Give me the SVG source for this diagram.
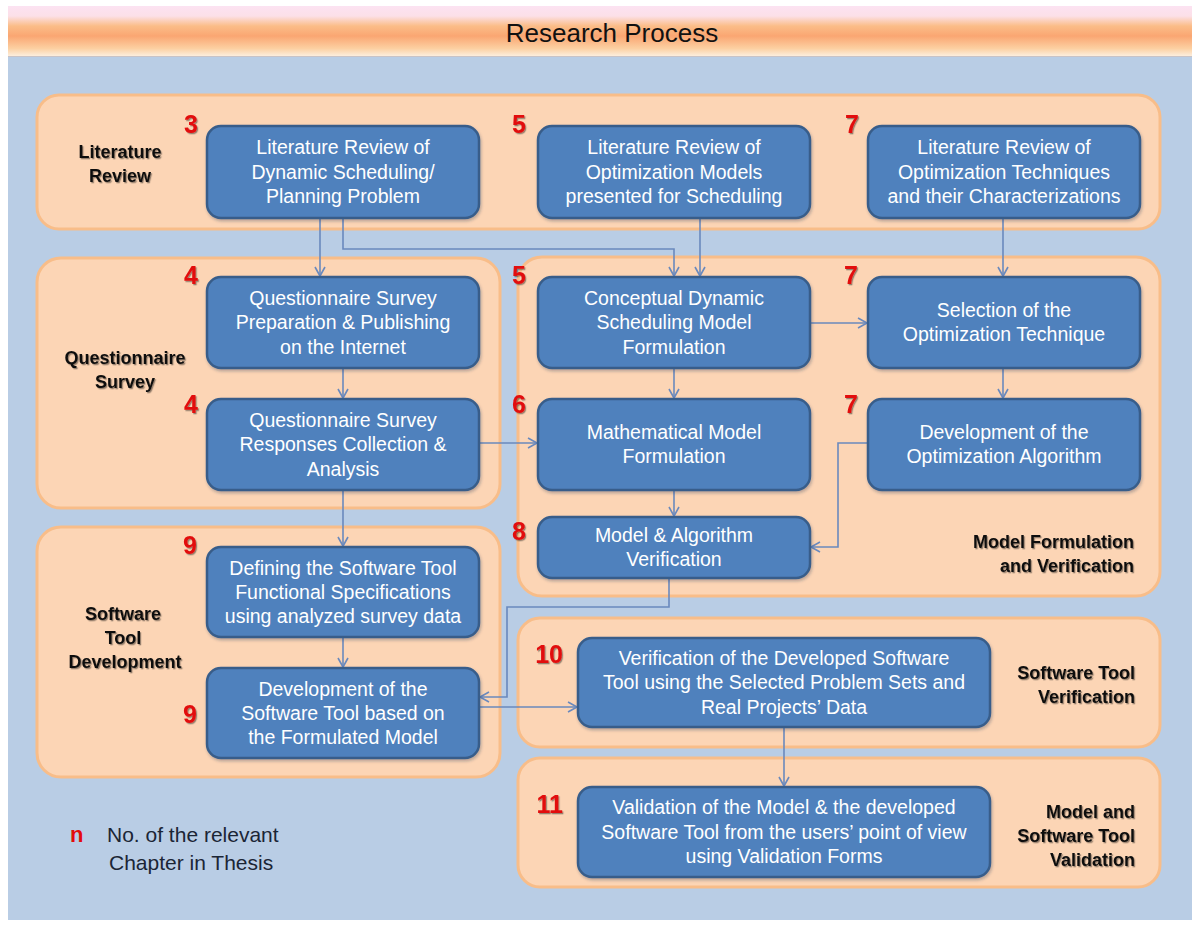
<svg xmlns="http://www.w3.org/2000/svg" width="1192" height="926" viewBox="0 0 1192 926">
  <defs>
    <linearGradient id="titleGrad" x1="0" y1="0" x2="0" y2="1">
      <stop offset="0" stop-color="#fce2f2"/>
      <stop offset="0.2" stop-color="#fce0e8"/>
      <stop offset="0.4" stop-color="#fbbd88"/>
      <stop offset="0.6" stop-color="#faa672"/>
      <stop offset="0.85" stop-color="#fcd0a2"/>
      <stop offset="1" stop-color="#fdeedd"/>
    </linearGradient>
    <filter id="txtShadow" x="-10%" y="-30%" width="130%" height="170%">
      <feDropShadow dx="1.2" dy="1.3" stdDeviation="0.7" flood-color="#000" flood-opacity="0.4"/>
    </filter>
    <filter id="boxShadow" x="-5%" y="-10%" width="112%" height="125%">
      <feDropShadow dx="1" dy="2" stdDeviation="1.5" flood-color="#1f3350" flood-opacity="0.3"/>
    </filter>
    <marker id="arrow" markerWidth="12" markerHeight="12" refX="10" refY="6" orient="auto" markerUnits="userSpaceOnUse">
      <path d="M1,1 L10,6 L1,11" fill="none" stroke="#6a89bd" stroke-width="1.6"/>
    </marker>
  </defs>
  <style>
    .region{fill:#fcd5b5;stroke:#f8bd89;stroke-width:3}
    .box{fill:#4f81bd;stroke:#385d8a;stroke-width:2.5}
    .btxt{font-family:"Liberation Sans",Arial,sans-serif;font-size:19.5px;fill:#ffffff;text-anchor:middle}
    .lbl{font-family:"Liberation Sans",Arial,sans-serif;font-size:18px;font-weight:bold;fill:#111111}
    .num{font-family:"Liberation Sans",Arial,sans-serif;font-size:25px;font-weight:bold;fill:#e20c0c;text-anchor:end}
    .conn{fill:none;stroke:#6a89bd;stroke-width:1.6;marker-end:url(#arrow)}
    .legend{font-family:"Liberation Sans",Arial,sans-serif;font-size:21px;fill:#1b2535}
  </style>

  <!-- page background and title band -->
  <rect x="0" y="0" width="1192" height="926" fill="#ffffff"/>
  <rect x="8" y="57" width="1184" height="863" fill="#b9cde5"/>
  <rect x="8" y="6" width="1184" height="50" fill="url(#titleGrad)"/>
  <line x1="8" y1="56.5" x2="1192" y2="56.5" stroke="#c9c3c6" stroke-width="1"/>
  <text x="612" y="42" font-family="'Liberation Sans',Arial,sans-serif" font-size="26" fill="#111111" text-anchor="middle">Research Process</text>

  <!-- phase panels -->
  <g id="phase-literature">
    <rect class="region" x="37" y="95" width="1123" height="134" rx="22"/>
    <text class="lbl" text-anchor="middle" filter="url(#txtShadow)"><tspan x="120" y="158">Literature</tspan><tspan x="120" y="182">Review</tspan></text>
  </g>
  <g id="phase-questionnaire">
    <rect class="region" x="37" y="258" width="463" height="250" rx="24"/>
    <text class="lbl" text-anchor="middle" filter="url(#txtShadow)"><tspan x="125" y="364">Questionnaire</tspan><tspan x="125" y="388">Survey</tspan></text>
  </g>
  <g id="phase-model">
    <rect class="region" x="518" y="257" width="642" height="339" rx="24"/>
    <text class="lbl" text-anchor="end" filter="url(#txtShadow)"><tspan x="1134" y="548">Model Formulation</tspan><tspan x="1134" y="572">and Verification</tspan></text>
  </g>
  <g id="phase-software-dev">
    <rect class="region" x="37" y="527" width="463" height="250" rx="24"/>
    <text class="lbl" text-anchor="middle" filter="url(#txtShadow)"><tspan x="123" y="620">Software</tspan><tspan x="123" y="644">Tool</tspan><tspan x="125" y="668">Development</tspan></text>
  </g>
  <g id="phase-software-ver">
    <rect class="region" x="518" y="618" width="642" height="129" rx="22"/>
    <text class="lbl" text-anchor="end" filter="url(#txtShadow)"><tspan x="1135" y="679">Software Tool</tspan><tspan x="1135" y="703">Verification</tspan></text>
  </g>
  <g id="phase-validation">
    <rect class="region" x="518" y="758" width="642" height="129" rx="22"/>
    <text class="lbl" text-anchor="end" filter="url(#txtShadow)"><tspan x="1135" y="818">Model and</tspan><tspan x="1135" y="842">Software Tool</tspan><tspan x="1135" y="866">Validation</tspan></text>
  </g>

  <!-- connectors -->
  <g id="connectors">
    <path class="conn" d="M320,218 V276"/>
    <path class="conn" d="M343,218 V249 H674 V276"/>
    <path class="conn" d="M700,218 V276"/>
    <path class="conn" d="M1003,218 V276"/>
    <path class="conn" d="M810,323 H867"/>
    <path class="conn" d="M674,368 V398"/>
    <path class="conn" d="M1003,368 V398"/>
    <path class="conn" d="M343,368 V398"/>
    <path class="conn" d="M479,443 H537"/>
    <path class="conn" d="M868,443 H838 V547 H811"/>
    <path class="conn" d="M674,490 V516"/>
    <path class="conn" d="M343,490 V546"/>
    <path class="conn" d="M669,578 V607 H507 V697 H480"/>
    <path class="conn" d="M343,637 V667"/>
    <path class="conn" d="M479,707 H577"/>
    <path class="conn" d="M784,727 V786"/>
  </g>

  <!-- process steps -->
  <g id="lit-dynamic">
    <rect class="box" x="207" y="126" width="272" height="92" rx="14" filter="url(#boxShadow)"/>
    <text class="btxt"><tspan x="343" y="154">Literature Review of</tspan><tspan x="343" y="178.5">Dynamic Scheduling/</tspan><tspan x="343" y="203">Planning Problem</tspan></text>
    <text class="num" x="198" y="133" filter="url(#txtShadow)">3</text>
  </g>
  <g id="lit-models">
    <rect class="box" x="538" y="126" width="272" height="92" rx="14" filter="url(#boxShadow)"/>
    <text class="btxt"><tspan x="674" y="154">Literature Review of</tspan><tspan x="674" y="178.5">Optimization Models</tspan><tspan x="674" y="203">presented for Scheduling</tspan></text>
    <text class="num" x="526" y="133" filter="url(#txtShadow)">5</text>
  </g>
  <g id="lit-techniques">
    <rect class="box" x="868" y="126" width="272" height="92" rx="14" filter="url(#boxShadow)"/>
    <text class="btxt"><tspan x="1004" y="154">Literature Review of</tspan><tspan x="1004" y="178.5">Optimization Techniques</tspan><tspan x="1004" y="203">and their Characterizations</tspan></text>
    <text class="num" x="859" y="133" filter="url(#txtShadow)">7</text>
  </g>
  <g id="survey-prep">
    <rect class="box" x="207" y="277" width="272" height="91" rx="14" filter="url(#boxShadow)"/>
    <text class="btxt"><tspan x="343" y="304.5">Questionnaire Survey</tspan><tspan x="343" y="329">Preparation &amp; Publishing</tspan><tspan x="343" y="353.5">on the Internet</tspan></text>
    <text class="num" x="198" y="284" filter="url(#txtShadow)">4</text>
  </g>
  <g id="survey-responses">
    <rect class="box" x="207" y="399" width="272" height="91" rx="14" filter="url(#boxShadow)"/>
    <text class="btxt"><tspan x="343" y="426.5">Questionnaire Survey</tspan><tspan x="343" y="451">Responses Collection &amp;</tspan><tspan x="343" y="475.5">Analysis</tspan></text>
    <text class="num" x="198" y="413" filter="url(#txtShadow)">4</text>
  </g>
  <g id="conceptual-model">
    <rect class="box" x="538" y="277" width="272" height="91" rx="14" filter="url(#boxShadow)"/>
    <text class="btxt"><tspan x="674" y="304.5">Conceptual Dynamic</tspan><tspan x="674" y="329">Scheduling Model</tspan><tspan x="674" y="353.5">Formulation</tspan></text>
    <text class="num" x="526" y="284" filter="url(#txtShadow)">5</text>
  </g>
  <g id="technique-selection">
    <rect class="box" x="868" y="277" width="272" height="91" rx="14" filter="url(#boxShadow)"/>
    <text class="btxt"><tspan x="1004" y="317">Selection of the</tspan><tspan x="1004" y="341">Optimization Technique</tspan></text>
    <text class="num" x="858" y="284" filter="url(#txtShadow)">7</text>
  </g>
  <g id="math-model">
    <rect class="box" x="538" y="399" width="272" height="91" rx="14" filter="url(#boxShadow)"/>
    <text class="btxt"><tspan x="674" y="439">Mathematical Model</tspan><tspan x="674" y="463">Formulation</tspan></text>
    <text class="num" x="526" y="413" filter="url(#txtShadow)">6</text>
  </g>
  <g id="algorithm-dev">
    <rect class="box" x="868" y="399" width="272" height="91" rx="14" filter="url(#boxShadow)"/>
    <text class="btxt"><tspan x="1004" y="439">Development of the</tspan><tspan x="1004" y="463">Optimization Algorithm</tspan></text>
    <text class="num" x="858" y="413" filter="url(#txtShadow)">7</text>
  </g>
  <g id="model-verification">
    <rect class="box" x="538" y="517" width="272" height="61" rx="14" filter="url(#boxShadow)"/>
    <text class="btxt"><tspan x="674" y="542">Model &amp; Algorithm</tspan><tspan x="674" y="566">Verification</tspan></text>
    <text class="num" x="526" y="540" filter="url(#txtShadow)">8</text>
  </g>
  <g id="tool-specs">
    <rect class="box" x="207" y="547" width="272" height="90" rx="14" filter="url(#boxShadow)"/>
    <text class="btxt"><tspan x="343" y="574.5">Defining the Software Tool</tspan><tspan x="343" y="598.5">Functional Specifications</tspan><tspan x="343" y="623">using analyzed survey data</tspan></text>
    <text class="num" x="197" y="554" filter="url(#txtShadow)">9</text>
  </g>
  <g id="tool-development">
    <rect class="box" x="207" y="668" width="272" height="90" rx="14" filter="url(#boxShadow)"/>
    <text class="btxt"><tspan x="343" y="695.5">Development of the</tspan><tspan x="343" y="719.5">Software Tool based on</tspan><tspan x="343" y="744">the Formulated Model</tspan></text>
    <text class="num" x="197" y="723" filter="url(#txtShadow)">9</text>
  </g>
  <g id="tool-verification">
    <rect class="box" x="578" y="638" width="412" height="89" rx="14" filter="url(#boxShadow)"/>
    <text class="btxt"><tspan x="784" y="664.5">Verification of the Developed Software</tspan><tspan x="784" y="689">Tool using the Selected Problem Sets and</tspan><tspan x="784" y="713.5">Real Projects’ Data</tspan></text>
    <text class="num" x="563" y="663" filter="url(#txtShadow)">10</text>
  </g>
  <g id="validation">
    <rect class="box" x="578" y="787" width="412" height="90" rx="14" filter="url(#boxShadow)"/>
    <text class="btxt"><tspan x="784" y="814">Validation of the Model &amp; the developed</tspan><tspan x="784" y="838.5">Software Tool from the users’ point of view</tspan><tspan x="784" y="863">using Validation Forms</tspan></text>
    <text class="num" x="563" y="813" filter="url(#txtShadow)">11</text>
  </g>

  <!-- legend -->
  <g id="legend">
    <text x="70" y="842" font-family="'Liberation Sans',Arial,sans-serif" font-size="22" font-weight="bold" fill="#e20c0c">n</text>
    <text class="legend" x="107" y="842">No. of the relevant</text>
    <text class="legend" x="109" y="870">Chapter in Thesis</text>
  </g>
</svg>
